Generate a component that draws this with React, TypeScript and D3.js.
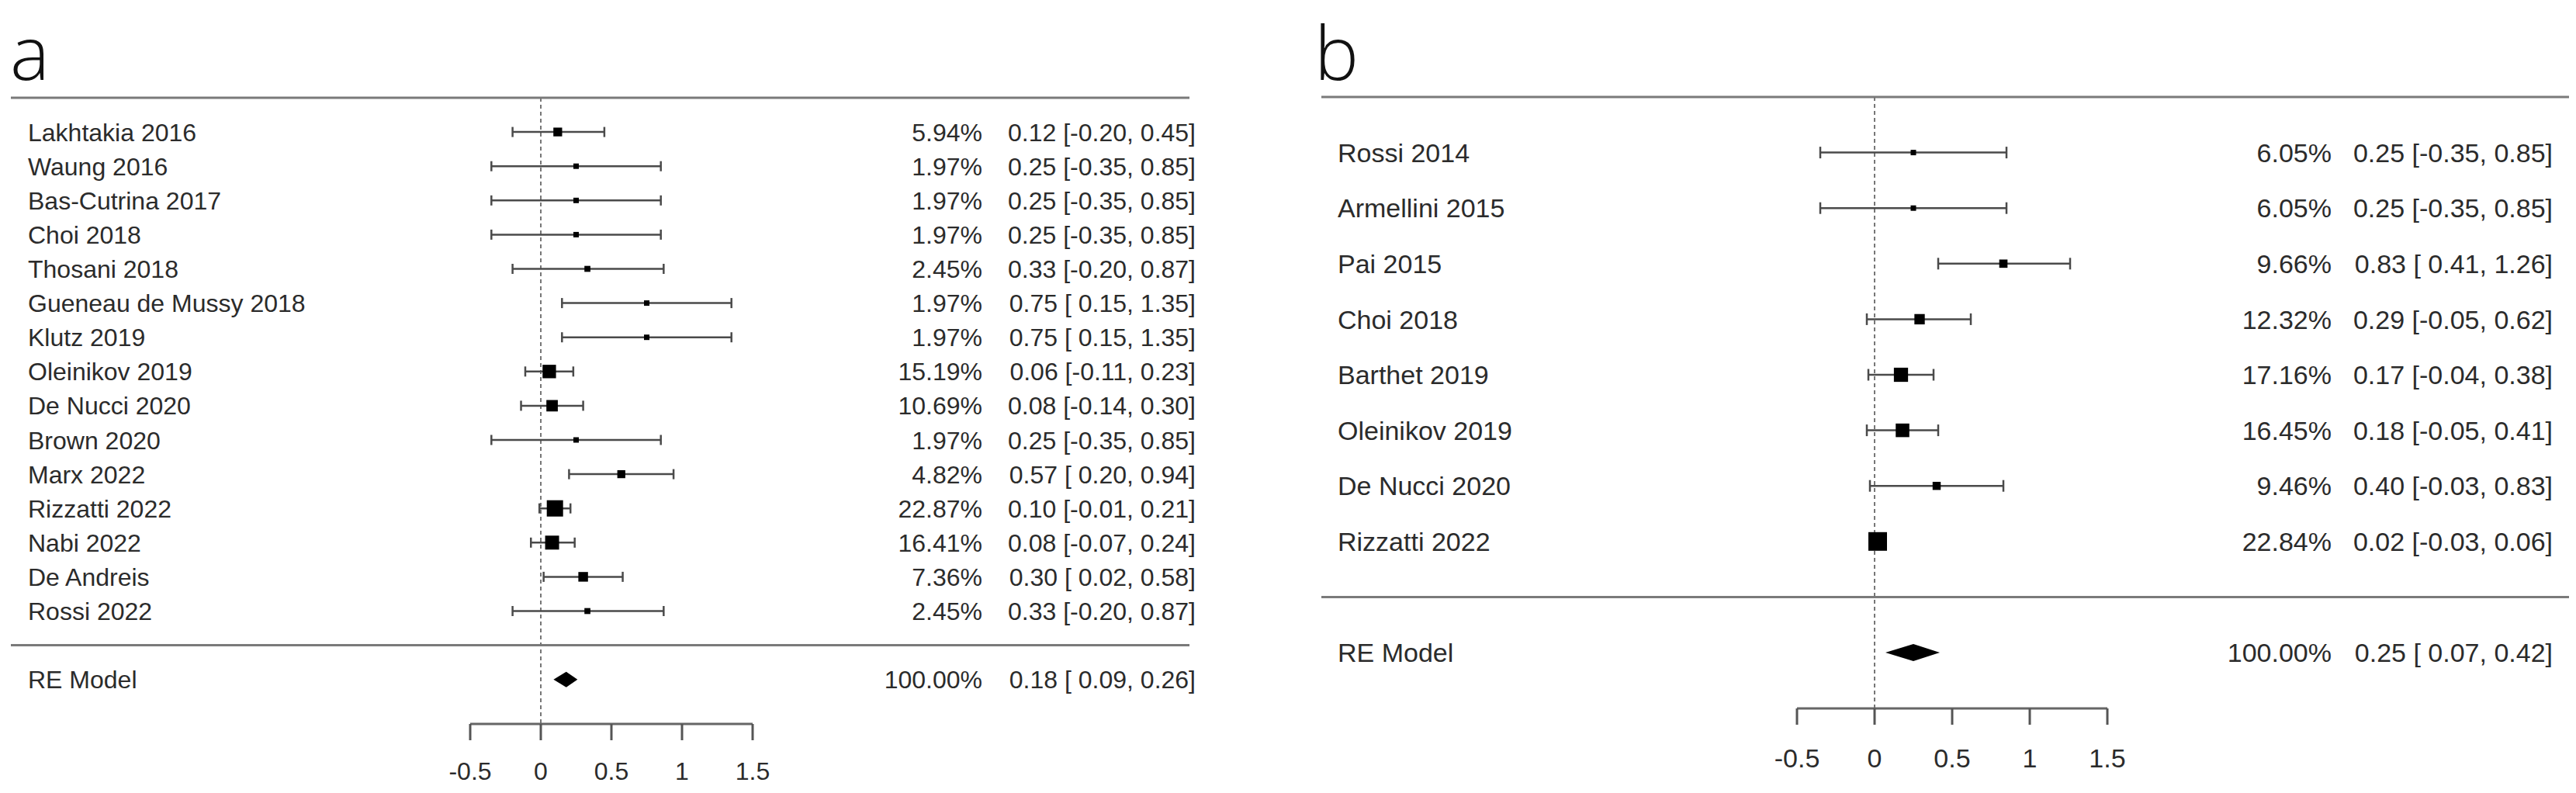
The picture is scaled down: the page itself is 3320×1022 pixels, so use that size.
import React from "react";
import * as d3 from "d3";

// ---------- Panel a data ----------
const studiesA = [
  "Lakhtakia 2016", "Waung 2016", "Bas-Cutrina 2017", "Choi 2018", "Thosani 2018",
  "Gueneau de Mussy 2018", "Klutz 2019", "Oleinikov 2019", "De Nucci 2020", "Brown 2020",
  "Marx 2022", "Rizzatti 2022", "Nabi 2022", "De Andreis", "Rossi 2022",
];
const weightsA = [5.94, 1.97, 1.97, 1.97, 2.45, 1.97, 1.97, 15.19, 10.69, 1.97, 4.82, 22.87, 16.41, 7.36, 2.45];
const estA = [0.12, 0.25, 0.25, 0.25, 0.33, 0.75, 0.75, 0.06, 0.08, 0.25, 0.57, 0.10, 0.08, 0.30, 0.33];
const lowerA = [-0.20, -0.35, -0.35, -0.35, -0.20, 0.15, 0.15, -0.11, -0.14, -0.35, 0.20, -0.01, -0.07, 0.02, -0.20];
const upperA = [0.45, 0.85, 0.85, 0.85, 0.87, 1.35, 1.35, 0.23, 0.30, 0.85, 0.94, 0.21, 0.24, 0.58, 0.87];
const summaryA = { label: "RE Model", weight: 100.0, est: 0.18, lower: 0.09, upper: 0.26 };

// ---------- Panel b data ----------
const studiesB = [
  "Rossi 2014", "Armellini 2015", "Pai 2015", "Choi 2018", "Barthet 2019",
  "Oleinikov 2019", "De Nucci 2020", "Rizzatti 2022",
];
const weightsB = [6.05, 6.05, 9.66, 12.32, 17.16, 16.45, 9.46, 22.84];
const estB = [0.25, 0.25, 0.83, 0.29, 0.17, 0.18, 0.40, 0.02];
const lowerB = [-0.35, -0.35, 0.41, -0.05, -0.04, -0.05, -0.03, -0.03];
const upperB = [0.85, 0.85, 1.26, 0.62, 0.38, 0.41, 0.83, 0.06];
const summaryB = { label: "RE Model", weight: 100.0, est: 0.25, lower: 0.07, upper: 0.42 };

const axisTicks = [-0.5, 0, 0.5, 1, 1.5];
const tickLabels = ["-0.5", "0", "0.5", "1", "1.5"];

const FONT = "'Liberation Sans', Arial, Helvetica, sans-serif";

const fmt = (v: number) => v.toFixed(2);
const ciText = (e: number, lo: number, hi: number) =>
  `${fmt(e)} [${lo >= 0 ? " " : ""}${fmt(lo)}, ${fmt(hi)}]`;

type Cfg = {
  letter: string;
  letterX: number;
  x0: number; // pixel at value -0.5
  x1: number; // pixel at value 1.5
  top: number;
  rowH: number;
  axisY: number;
  tickLabelY: number;
  labelX: number;
  weightRight: number;
  estRight: number;
  lineX1: number;
  lineX2: number;
  fontSize: number;
  capH: number;
  diamondH: number;
  sizeRange: [number, number];
  sqrtSize: boolean;
};

function Forest({
  cfg, studies, weights, est, lower, upper, summary,
}: {
  cfg: Cfg; studies: string[]; weights: number[]; est: number[]; lower: number[]; upper: number[];
  summary: { label: string; weight: number; est: number; lower: number; upper: number };
}) {
  const x = d3.scaleLinear().domain([-0.5, 1.5]).range([cfg.x0, cfg.x1]);
  const k = studies.length;
  const y = d3.scaleLinear().domain([0, 1]).range([cfg.top, cfg.top + cfg.rowH]);
  const rowY = (i: number) => y(i + 1);
  const sepY = y(k + 1);
  const reY = y(k + 2);
  const ext = d3.extent(weights) as [number, number];
  const size = (cfg.sqrtSize ? d3.scaleSqrt() : d3.scaleLinear()).domain(ext).range(cfg.sizeRange);
  const fs = cfg.fontSize;
  const textDy = fs * 0.36;
  const textFill = "#2b2b2b";
  const hd = cfg.diamondH / 2;
  const diamond = d3.line()([
    [x(summary.lower), reY],
    [x(summary.est), reY - hd],
    [x(summary.upper), reY],
    [x(summary.est), reY + hd],
  ]) + "Z";

  return (
    <g>
      <text x={cfg.letterX} y={103} fontFamily="'Open Sans', 'DejaVu Sans', sans-serif" fontWeight={300}
        fontSize={96} fill="#111">{cfg.letter}</text>
      {/* horizontal rules */}
      <line x1={cfg.lineX1} x2={cfg.lineX2} y1={cfg.top} y2={cfg.top} stroke="#7a7a7a" strokeWidth={3} />
      <line x1={cfg.lineX1} x2={cfg.lineX2} y1={sepY} y2={sepY} stroke="#7a7a7a" strokeWidth={3} />
      {/* reference line */}
      <line x1={x(0)} x2={x(0)} y1={cfg.top} y2={cfg.axisY} stroke="#777" strokeWidth={2}
        strokeDasharray="5,4" />
      {/* studies */}
      {studies.map((s, i) => {
        const yy = rowY(i);
        const sz = size(weights[i]);
        return (
          <g key={s + i}>
            <line x1={x(lower[i])} x2={x(upper[i])} y1={yy} y2={yy} stroke="#4a4a4a" strokeWidth={2.5} />
            <line x1={x(lower[i])} x2={x(lower[i])} y1={yy - cfg.capH / 2} y2={yy + cfg.capH / 2}
              stroke="#4a4a4a" strokeWidth={2.5} />
            <line x1={x(upper[i])} x2={x(upper[i])} y1={yy - cfg.capH / 2} y2={yy + cfg.capH / 2}
              stroke="#4a4a4a" strokeWidth={2.5} />
            <rect x={x(est[i]) - sz / 2} y={yy - sz / 2} width={sz} height={sz} fill="#000" />
            <text x={cfg.labelX} y={yy + textDy} fontFamily={FONT} fontSize={fs} fill={textFill}>{s}</text>
            <text x={cfg.weightRight} y={yy + textDy} fontFamily={FONT} fontSize={fs} fill={textFill}
              textAnchor="end">{`${weights[i].toFixed(2)}%`}</text>
            <text x={cfg.estRight} y={yy + textDy} fontFamily={FONT} fontSize={fs} fill={textFill}
              textAnchor="end" style={{ whiteSpace: "pre" }}>{ciText(est[i], lower[i], upper[i])}</text>
          </g>
        );
      })}
      {/* summary */}
      <path d={diamond} fill="#000" />
      <text x={cfg.labelX} y={reY + textDy} fontFamily={FONT} fontSize={fs} fill={textFill}>{summary.label}</text>
      <text x={cfg.weightRight} y={reY + textDy} fontFamily={FONT} fontSize={fs} fill={textFill}
        textAnchor="end">{`${summary.weight.toFixed(2)}%`}</text>
      <text x={cfg.estRight} y={reY + textDy} fontFamily={FONT} fontSize={fs} fill={textFill}
        textAnchor="end" style={{ whiteSpace: "pre" }}>{ciText(summary.est, summary.lower, summary.upper)}</text>
      {/* axis */}
      <line x1={x(axisTicks[0])} x2={x(axisTicks[axisTicks.length - 1])} y1={cfg.axisY} y2={cfg.axisY}
        stroke="#666" strokeWidth={3} />
      {axisTicks.map((t, i) => (
        <g key={t}>
          <line x1={x(t)} x2={x(t)} y1={cfg.axisY} y2={cfg.axisY + 21} stroke="#555" strokeWidth={3} />
          <text x={x(t)} y={cfg.tickLabelY + textDy} fontFamily={FONT} fontSize={fs} fill={textFill}
            textAnchor="middle">{tickLabels[i]}</text>
        </g>
      ))}
    </g>
  );
}

const cfgA: Cfg = {
  letter: "a", letterX: 13, x0: 606, x1: 970, top: 126, rowH: 44.1, axisY: 933, tickLabelY: 993,
  labelX: 36, weightRight: 1266, estRight: 1541, lineX1: 14, lineX2: 1533, fontSize: 32,
  capH: 13, diamondH: 20, sizeRange: [7, 21], sqrtSize: true,
};
const cfgB: Cfg = {
  letter: "b", letterX: 1694, x0: 2316, x1: 2716, top: 125, rowH: 71.6, axisY: 913, tickLabelY: 977,
  labelX: 1724, weightRight: 3005, estRight: 3290, lineX1: 1703, lineX2: 3311, fontSize: 34,
  capH: 15, diamondH: 22, sizeRange: [7, 24], sqrtSize: false,
};

export default function App() {
  return (
    <svg width={3320} height={1022} style={{ position: "absolute", left: 0, top: 0, background: "#fff" }}>
      <rect width={3320} height={1022} fill="#fff" />
      <Forest cfg={cfgA} studies={studiesA} weights={weightsA} est={estA} lower={lowerA} upper={upperA}
        summary={summaryA} />
      <Forest cfg={cfgB} studies={studiesB} weights={weightsB} est={estB} lower={lowerB} upper={upperB}
        summary={summaryB} />
    </svg>
  );
}
